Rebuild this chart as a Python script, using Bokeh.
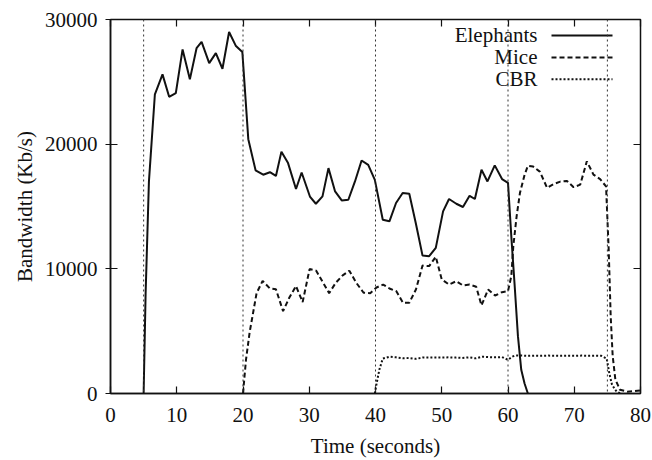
from bokeh.plotting import figure
from bokeh.models import Range1d, FixedTicker, LinearAxis, Span, CustomJSTickFormatter
from bokeh.core.properties import value
from bokeh.embed import file_html
from bokeh.resources import INLINE

# ---------------- data ----------------
eleph_t = [5.0, 5.3, 5.8, 6.7, 7.85, 8.85, 9.86, 10.88, 11.98, 12.99, 13.75, 14.9, 15.9,
           16.9, 17.9, 18.9, 19.9, 20.8, 21.9, 23.05, 24.06, 24.97, 25.8, 26.8, 28.0,
           28.85, 30.1, 31.0, 32.0, 32.9, 33.9, 34.9, 35.9, 36.9, 37.9, 38.9, 39.9,
           41.1, 42.1, 43.1, 44.1, 45.1, 46.1, 47.1, 48.1, 49.1, 50.2, 51.1, 52.2,
           53.2, 54.2, 55.0, 56.0, 56.9, 58.0, 59.1, 60.0, 60.5, 61.0, 61.5, 62.0,
           62.5, 63.0]
eleph_bw = [0, 8000, 17000, 24000, 25600, 23800, 24100, 27600, 25200, 27700, 28200, 26500,
            27300, 26050, 29000, 27900, 27400, 20400, 17900, 17550, 17750, 17450, 19400,
            18480, 16400, 17730, 15800, 15220, 15810, 18080, 16210, 15490, 15540, 17010,
            18690, 18340, 17140, 13940, 13810, 15280, 16080, 16020, 13620, 11060, 11010,
            11680, 14610, 15600, 15220, 14960, 15860, 15600, 17950, 17010, 18300, 17200,
            16900, 12600, 8700, 4600, 1900, 800, 0]

mice_t = [20.0, 20.45, 21.0, 22.05, 22.96, 24.06, 24.97, 26.05, 27.0, 28.0, 29.0, 30.05,
          31.05, 32.0, 33.0, 34.0, 35.05, 36.05, 37.1, 38.2, 39.2, 40.15, 41.15, 42.2,
          43.15, 44.15, 45.1, 46.1, 47.1, 48.1, 49.1, 50.0, 51.1, 52.2, 53.2, 54.2,
          55.2, 56.0, 57.0, 58.05, 59.1, 60.0, 60.5, 60.8, 61.3, 61.8, 62.5, 63.0,
          63.8, 64.8, 65.9, 66.9, 67.9, 68.9, 69.9, 70.9, 71.9, 72.9, 73.9, 74.8,
          75.2, 75.5, 75.8, 76.2, 76.9, 78.0, 79.0, 80.0]
mice_bw = [0, 2700, 4900, 8050, 9030, 8420, 8360, 6610, 7700, 8620, 7330, 9980, 9850,
           8970, 8050, 8880, 9480, 9850, 8880, 8080, 8050, 8500, 8740, 8400, 8200, 7280,
           7280, 8340, 10260, 10220, 10970, 9150, 8740, 9010, 8670, 8740, 8560, 7070,
           8340, 7860, 8130, 8210, 9410, 11810, 14210, 16080, 17540, 18260, 18200,
           17800, 16500, 16800, 17000, 17050, 16550, 16750, 18620, 17560, 17200, 16610,
           11540, 6210, 3010, 1140, 300, 150, 180, 250]

cbr_t = [39.9, 40.2, 40.6, 41.1, 42.1, 43.1, 44.1, 45.1, 46.1, 47.1, 48.1, 49.1, 50.1,
         51.1, 52.1, 53.1, 54.1, 55.1, 56.1, 57.1, 58.1, 59.1, 60.0, 60.6, 61.1, 62.1,
         63.1, 64.1, 65.1, 66.1, 67.1, 68.1, 69.1, 70.1, 71.1, 72.1, 73.1, 74.1, 74.9,
         75.3, 75.7, 76.4, 77.0]
cbr_bw = [0, 900, 1950, 2800, 2950, 2900, 2820, 2850, 2780, 2880, 2880, 2880, 2880,
          2900, 2880, 2850, 2900, 2820, 2950, 2920, 2900, 2920, 2700, 2950, 3050, 3040,
          3020, 3030, 3020, 3040, 3030, 3020, 3030, 3020, 3040, 3030, 3030, 3020, 2800,
          1600, 700, 150, 0]

phase_marks = [5, 20, 40, 60, 75]

x_ticks = [0, 10, 20, 30, 40, 50, 60, 70, 80]
y_ticks = [0, 10000, 20000, 30000]

legend_labels = ["Elephants", "Mice", "CBR"]

# ---------------- styling ----------------
FONT = "Liberation Serif"
INK = "#111111"

p = figure(width=652, height=460, output_backend="svg", toolbar_location=None,
           x_range=Range1d(0, 80), y_range=Range1d(0, 30000),
           min_border_left=110, min_border_right=12, min_border_top=19,
           min_border_bottom=66, x_axis_label="Time (seconds)",
           y_axis_label="Bandwidth (Kb/s)")
p.background_fill_color = "white"
p.border_fill_color = "white"
p.outline_line_color = INK
p.outline_line_width = 1.5
p.grid.visible = False

p.xaxis.ticker = FixedTicker(ticks=x_ticks)
p.yaxis.ticker = FixedTicker(ticks=y_ticks)
for ax in (p.xaxis[0], p.yaxis[0]):
    ax.axis_line_color = INK
    ax.axis_line_width = 1.5
    ax.major_tick_line_color = INK
    ax.major_tick_line_width = 1.2
    ax.minor_tick_line_color = None
    ax.major_label_text_font = FONT
    ax.major_label_text_font_size = "21px"
    ax.major_label_text_color = INK
    ax.axis_label_text_font = FONT
    ax.axis_label_text_font_size = "21px"
    ax.axis_label_text_font_style = "normal"
    ax.axis_label_text_color = INK

p.xaxis.major_tick_in = 7
p.xaxis.major_tick_out = 0
p.xaxis.major_label_standoff = 14
p.xaxis.axis_label_standoff = 9
p.yaxis.major_tick_in = 7
p.yaxis.major_tick_out = 5
p.yaxis.major_label_standoff = 8
p.yaxis.axis_label_standoff = 5

blank = CustomJSTickFormatter(code="return '';")
top = LinearAxis(ticker=FixedTicker(ticks=x_ticks), formatter=blank)
right = LinearAxis(ticker=FixedTicker(ticks=y_ticks), formatter=blank)
for ax in (top, right):
    ax.axis_line_color = None
    ax.major_tick_in = 7
    ax.major_tick_out = 0
    ax.major_tick_line_color = INK
    ax.major_tick_line_width = 1.2
    ax.minor_tick_line_color = None
    ax.major_label_standoff = 0
p.add_layout(top, "above")
p.add_layout(right, "right")

# phase separators
for t in phase_marks:
    p.add_layout(Span(location=t, dimension="height", line_color="#333333",
                      line_width=1, line_dash="2 3"))

# series
p.line(eleph_t, eleph_bw, line_color=INK, line_width=2)
p.line(mice_t, mice_bw, line_color=INK, line_width=2, line_dash="5 3")
p.line(cbr_t, cbr_bw, line_color=INK, line_width=2, line_dash="2 2")

# gnuplot-style key: label on the left, sample on the right
px_per_s = 530 / 80.0
px_per_bw = 375 / 30000.0
row_px = [35, 57, 79]
key_text_x = (537 - 110) / px_per_s
key_x0 = (551 - 110) / px_per_s
key_x1 = (612 - 110) / px_per_s
key_y = [30000 - (r - 19) / px_per_bw for r in row_px]
dashes = ["solid", "5 3", "2 2"]

p.text(x=[key_text_x] * 3, y=key_y, text=legend_labels, text_font=value(FONT),
       text_font_size="21px", text_align="right", text_baseline="middle",
       text_color=INK)
for yy, d in zip(key_y, dashes):
    p.line([key_x0, key_x1], [yy, yy], line_color=INK, line_width=2, line_dash=d)

open("out.html", "w").write(file_html(p, INLINE))
